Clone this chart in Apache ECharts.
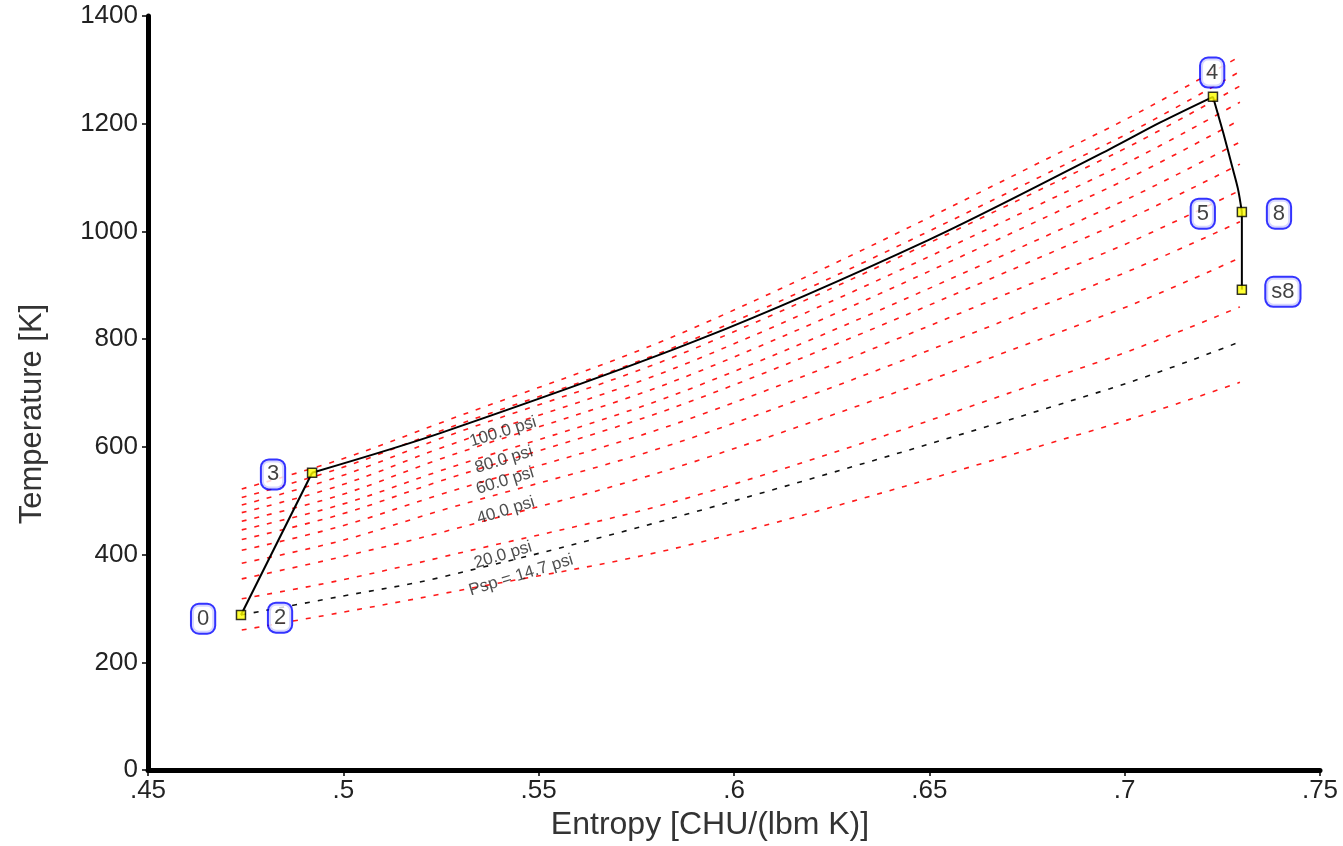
<!DOCTYPE html>
<html>
<head>
<meta charset="utf-8">
<script src="https://cdn.jsdelivr.net/npm/echarts@6/dist/echarts.min.js"></script>
<style>
  html, body { margin: 0; padding: 0; background: #ffffff; }
  #chart { width: 1343px; height: 846px; }
</style>
</head>
<body>
<div id="chart"></div>
<script>
// ---- data ----
// entropy positions at which the isobars were read
const S_COLS = [0.474, 0.499, 0.525, 0.5913, 0.6962, 0.7295];
// isobar temperatures [K] at those entropies
const ISO_LOW = [260, 292, 327, 423, 640, 720];
const ISO_PSP = [288, 322, 358, 482, 708, 795];
const ISO_20  = [318, 352, 395, 512, 765, 860];
const ISO_30  = [355, 395, 441, 576, 848, 951];
const ISO_40  = [384, 425, 482, 622, 912, 1018];
const ISO_50  = [408, 452, 512, 659, 964, 1076];
const ISO_60  = [428, 474, 537, 691, 1008, 1125];
const ISO_70  = [446, 492, 556, 715, 1045, 1166];
const ISO_80  = [462, 510, 578, 741, 1082, 1207];
const ISO_90  = [478, 528, 598, 765, 1112, 1240];
const ISO_100 = [492, 545, 616, 787, 1140, 1270];
const ISO_110 = [506, 560, 630, 805, 1165, 1297];
const ISO_120 = [522, 576, 645, 826, 1193, 1325];

// cycle path segments [s, T]
const SEG_0_3  = [[0.4738, 288], [0.4920, 552]];
const SEG_3_4  = [[0.4920, 552], [0.525, 626], [0.5913, 800], [0.65, 985], [0.6962, 1153], [0.709, 1202], [0.7226, 1250]];
const SEG_4_8  = [[0.7226, 1250], [0.7252, 1184], [0.7275, 1121], [0.7290, 1079], [0.7300, 1036]];
const SEG_8_S8 = [[0.7300, 1036], [0.7300, 892]];

// state points (yellow squares)
const STATE_POINTS = [[0.4738, 288], [0.4920, 552], [0.7226, 1250], [0.7300, 1036], [0.7300, 892]];

// state labels [s, T, text]
const STATE_LABELS = [
  [0.4641, 281, '0'], [0.4838, 283, '2'], [0.4820, 549, '3'], [0.7224, 1295, '4'],
  [0.7200, 1033, '5'], [0.7395, 1033, '8'], [0.7405, 888, 's8']
];

// isobar labels [s, T, text]
const ISO_LABELS = [
  [0.5409, 628, '100.0 psi'], [0.5411, 576, '80.0 psi'], [0.5414, 537, '60.0 psi'],
  [0.5416, 482, '40.0 psi'], [0.5409, 399, '20.0 psi'], [0.5455, 362, 'Psp = 14.7 psi']
];

const X_TICK_LABELS = ['.45', '.5', '.55', '.6', '.65', '.7', '.75'];
const X_MIN = 0.45, X_MAX = 0.75, X_STEP = 0.05;
const Y_MIN = 0, Y_MAX = 1400, Y_STEP = 200;

// ---- build options ----
function toPairs(arr) { return S_COLS.map((s, i) => [s, arr[i]]); }

const redIsobars = [ISO_LOW, ISO_20, ISO_30, ISO_40, ISO_50, ISO_60, ISO_70, ISO_80, ISO_90, ISO_100, ISO_110, ISO_120];

const series = [];
redIsobars.forEach(arr => {
  series.push({
    type: 'line', data: toPairs(arr), smooth: 0.35, symbol: 'none', silent: true,
    lineStyle: { color: '#ff1a1a', width: 1.6, type: [5, 8] }, z: 2
  });
});
series.push({
  type: 'line', data: toPairs(ISO_PSP).map((p, i) => i === 0 ? [SEG_0_3[0][0], ISO_PSP[0]] : p),
  smooth: 0.35, symbol: 'none', silent: true,
  lineStyle: { color: '#111', width: 1.6, type: [5, 8] }, z: 2
});

[SEG_0_3, SEG_3_4, SEG_4_8, SEG_8_S8].forEach((seg, i) => {
  series.push({
    type: 'line', data: seg, smooth: (i === 1 || i === 2) ? 0.3 : false, symbol: 'none', silent: true,
    lineStyle: { color: '#000', width: 2 }, z: 3
  });
});

series.push({
  type: 'scatter', data: STATE_POINTS, symbol: 'rect', symbolSize: 9,
  itemStyle: { color: '#ffff00', borderColor: '#000', borderWidth: 1.5 }, z: 5
});

series.push({
  type: 'scatter', data: STATE_LABELS, symbolSize: 1,
  itemStyle: { color: 'rgba(0,0,0,0)' }, z: 6,
  label: {
    show: true, position: 'inside', formatter: p => p.data[2],
    fontFamily: 'Liberation Sans, Arial, sans-serif', fontSize: 22, color: '#111',
    backgroundColor: '#fff', borderColor: '#0000ff', borderWidth: 2, borderRadius: 7,
    padding: [4, 5, 2, 5]
  }
});

series.push({
  type: 'scatter', data: ISO_LABELS, symbolSize: 1,
  itemStyle: { color: 'rgba(0,0,0,0)' }, z: 6,
  label: {
    show: true, position: 'inside', formatter: p => p.data[2], rotate: 17,
    fontFamily: 'Liberation Sans, Arial, sans-serif', fontSize: 17, color: '#222'
  }
});

const chart = echarts.init(document.getElementById('chart'), null, { renderer: 'canvas' });
chart.setOption({
  animation: false,
  backgroundColor: '#fff',
  grid: { left: 148, right: 23, top: 16, bottom: 72, containLabel: false },
  xAxis: {
    type: 'value', min: X_MIN, max: X_MAX, interval: X_STEP,
    name: 'Entropy [CHU/(lbm K)]', nameLocation: 'middle', nameGap: 38,
    nameTextStyle: { fontFamily: 'Liberation Sans, Arial, sans-serif', fontSize: 32, color: '#333', padding: [0, 48, 0, 0] },
    axisLine: { lineStyle: { color: '#000', width: 5 } },
    axisTick: { show: true, length: 6, lineStyle: { color: '#000', width: 1.5 } },
    axisLabel: {
      fontFamily: 'Liberation Sans, Arial, sans-serif', fontSize: 26, color: '#222', margin: 8,
      formatter: v => X_TICK_LABELS[Math.round((v - X_MIN) / X_STEP)] || ''
    },
    splitLine: { show: false }
  },
  yAxis: {
    type: 'value', min: Y_MIN, max: Y_MAX, interval: Y_STEP,
    name: 'Temperature [K]', nameLocation: 'middle', nameGap: 100,
    nameTextStyle: { fontFamily: 'Liberation Sans, Arial, sans-serif', fontSize: 31, color: '#333', padding: [0, 42, 0, 0] },
    axisLine: { show: true, lineStyle: { color: '#000', width: 5 } },
    axisTick: { show: true, length: 6, lineStyle: { color: '#000', width: 1.5 } },
    axisLabel: { fontFamily: 'Liberation Sans, Arial, sans-serif', fontSize: 26, color: '#222', margin: 10, formatter: v => String(v) },
    splitLine: { show: false }
  },
  series: series
});
</script>
</body>
</html>
